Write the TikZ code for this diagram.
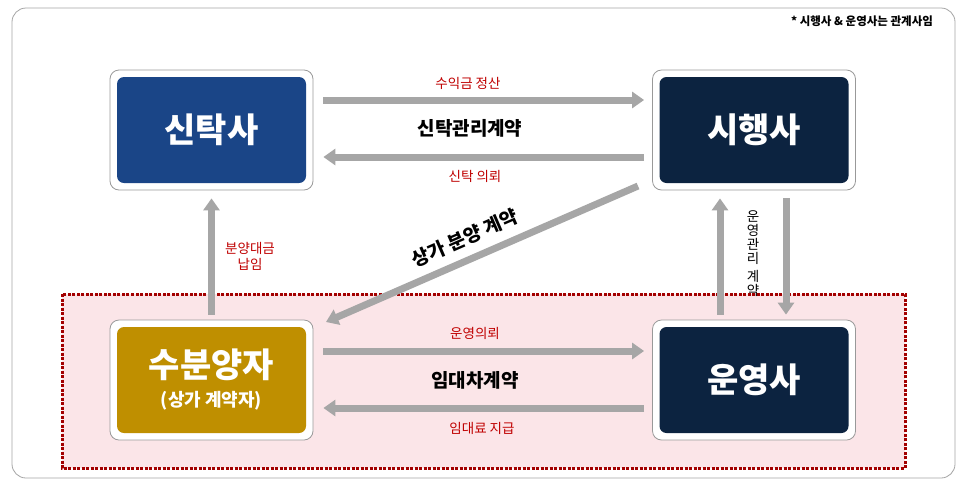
\documentclass[tikz,border=0pt]{standalone}
\usepackage{fontspec}
\setmainfont{Noto Sans CJK KR}
\usetikzlibrary{arrows.meta}
\definecolor{navy}{HTML}{0C2340}
\definecolor{blu}{HTML}{1A4587}
\definecolor{gold}{HTML}{BF8F00}
\definecolor{arr}{HTML}{A6A6A6}
\definecolor{rd}{HTML}{C00000}
\definecolor{pinkbg}{HTML}{FBE5E8}
\begin{document}
\begin{tikzpicture}[x=1pt,y=-1pt,
 frame/.style={draw=gray!80,fill=white,rounded corners=9pt,line width=0.8pt,minimum width=203pt,minimum height=120pt},
 inner/.style={rounded corners=7pt,minimum width=189pt,minimum height=106pt,text=white,font=\bfseries\fontsize{34}{36}\selectfont,align=center},
 ga/.style={draw=arr,line width=7pt,-{Triangle[length=12pt,width=16pt]}},
 rl/.style={text=rd,font=\fontsize{13.5}{16}\selectfont},
 bl/.style={text=black,font=\bfseries\fontsize{19}{22}\selectfont}]
\useasboundingbox (0,0) rectangle (966,483);
\fill[white] (0,0) rectangle (966,483);
\draw[gray!70,line width=0.8pt,rounded corners=14pt,fill=white] (12,8) rectangle (955,478);
\draw[rd!85!black,fill=pinkbg,line width=3pt,dash pattern=on 3pt off 1.5pt] (62,294) rectangle (905,468);
\node[font=\bfseries\fontsize{11.5}{13}\selectfont] (note) at (862,21) {* 시행사 \& 운영사는 관계사임};
% boxes
\node[frame] (fA) at (211.5,130) {};
\node[inner,fill=blu] (A) at (211.5,130) {신탁사};
\node[frame] (fB) at (754,130) {};
\node[inner,fill=navy] (B) at (754,130) {시행사};
\node[frame] (fC) at (211.5,380) {};
\node[inner,fill=gold] (C) at (211.5,380) {수분양자\\[-7pt]{\fontsize{18}{20}\selectfont (상가 계약자)}};
\node[frame] (fD) at (754,380) {};
\node[inner,fill=navy] (D) at (754,380) {운영사};
% horizontal arrows
\draw[ga] ([yshift=30pt,xshift=10pt]fA.east) -- ([yshift=30pt,xshift=-8pt]fB.west);
\draw[ga] ([yshift=-27pt,xshift=-8pt]fB.west) -- ([yshift=-27pt,xshift=10pt]fA.east);
\draw[ga] ([yshift=29pt,xshift=10pt]fC.east) -- ([yshift=29pt,xshift=-8pt]fD.west);
\draw[ga] ([yshift=-28pt,xshift=-8pt]fD.west) -- ([yshift=-28pt,xshift=10pt]fC.east);
\node[rl] (l1) at (468,83) {수익금 정산};
\node[bl] (l2) at (470,128) {신탁관리계약};
\node[rl] (l3) at (475,176) {신탁 의뢰};
\node[rl] (l4) at (475,333) {운영의뢰};
\node[bl] (l5) at (475,380) {임대차계약};
\node[rl] (l6) at (482,428) {임대료 지급};
% vertical arrows
\draw[ga] ([yshift=5pt]fC.north) -- ([yshift=-8pt]fA.south);
\node[rl,align=center] (l7) at (250,256) {분양대금\\납임};
\draw[ga] ([xshift=-34pt,yshift=5pt]fD.north) -- ([xshift=-34pt,yshift=-8pt]fB.south);
\draw[ga] ([xshift=32pt,yshift=-8pt]fB.south) -- ([xshift=32pt,yshift=5pt]fD.north);
\node[text=black,font=\fontsize{13.5}{14}\selectfont,align=center] (l8) at (753,254) {운\\영\\관\\리\\[4pt]계\\약};
% diagonal
\coordinate (d1) at (638,186);
\coordinate (d2) at (326,322);
\draw[ga] (d1) -- (d2);
\node[bl,rotate=23.5] (l9) at (465,238) {상가 분양 계약};
\end{tikzpicture}
\end{document}
